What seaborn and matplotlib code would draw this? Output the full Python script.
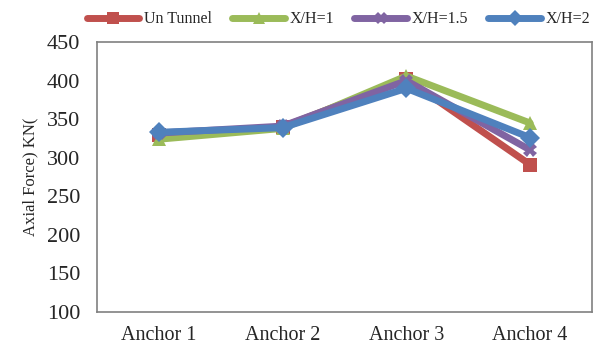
import matplotlib
matplotlib.use("Agg")
import matplotlib.pyplot as plt
import seaborn as sns
import pandas as pd

categories = ["Anchor 1", "Anchor 2", "Anchor 3", "Anchor 4"]
series_names = ["Un Tunnel", "X/H=1", "X/H=1.5", "X/H=2"]
un_tunnel = [330, 340, 402, 291]
xh_1 = [324, 338, 406, 345]
xh_15 = [332, 341, 400, 310]
xh_2 = [333, 339, 390, 326]
y_ticks = [100, 150, 200, 250, 300, 350, 400, 450]

sns.set_theme(style="white")
plt.rcParams["font.family"] = ["Liberation Serif", "DejaVu Serif"]

rows = []
for name, vals in zip(series_names, [un_tunnel, xh_1, xh_15, xh_2]):
    for i, (c, v) in enumerate(zip(categories, vals)):
        rows.append({"pos": i, "cat": c, "series": name, "value": v})
df = pd.DataFrame(rows)

palette = {"Un Tunnel": "#C0504D", "X/H=1": "#9BBB59", "X/H=1.5": "#8064A2", "X/H=2": "#4F81BD"}
markers = {"Un Tunnel": "s", "X/H=1": "^", "X/H=1.5": "X", "X/H=2": "D"}

fig = plt.figure(figsize=(5.95, 3.45), dpi=100)
ax = fig.add_axes([0.163, 0.096, 0.832, 0.782])
sns.lineplot(data=df, x="pos", y="value", hue="series", style="series",
             palette=palette, markers=markers, dashes=False, linewidth=5,
             markersize=10, markeredgewidth=0, ax=ax, legend=True)

ax.set_xlim(-0.5, 3.5)
ax.set_ylim(100, 450)
ax.set_yticks(y_ticks)
ax.set_xticks(range(len(categories)))
ax.set_xticklabels(categories, fontsize=14.5)
ax.tick_params(axis="y", labelsize=16, length=0, pad=12)
ax.tick_params(axis="x", length=0, pad=10)
ax.set_xlabel("")
ax.set_ylabel("Axial Force) KN(", fontsize=12, labelpad=6)
for s in ax.spines.values():
    s.set_color("#808080")
    s.set_linewidth(1.2)

handles, labels = ax.get_legend_handles_labels()
for h in handles:
    h.set_markersize(8)
ax.legend(handles, labels, loc="lower center", bbox_to_anchor=(0.488, 1.02),
          ncol=4, frameon=False, fontsize=11.5, handlelength=3.3,
          columnspacing=1.25, handletextpad=0.3, borderaxespad=0.2)

fig.savefig("out.png", dpi=100)
